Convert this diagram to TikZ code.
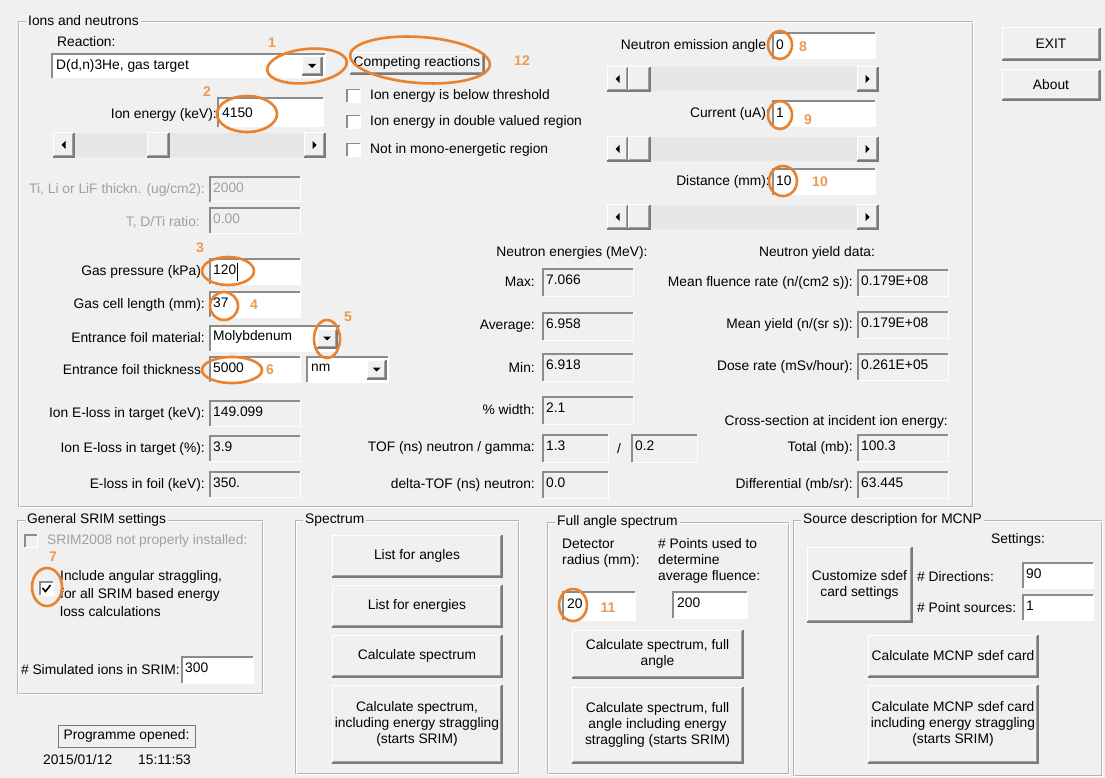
\documentclass[tikz,border=0pt]{standalone}
\usepackage{fontspec}
\setmainfont{Liberation Sans}

\definecolor{winbg}{HTML}{F0F0F0}
\definecolor{shadowdk}{HTML}{7A7A7A}
\definecolor{shadowlt}{HTML}{A0A0A0}
\definecolor{tboxedge}{HTML}{8C8C8C}
\definecolor{track}{HTML}{E6E6E6}
\definecolor{etchline}{HTML}{B4B4B4}
\definecolor{greytext}{HTML}{A0A0A0}
\definecolor{ringorange}{HTML}{E8822E}
\definecolor{numorange}{HTML}{EC9A4C}

% sunken text field: x1,y1,x2,y2,fill
\newcommand{\sunkbox}[5]{%
  \fill[#5] ({#1},{#2}) rectangle ({#3},{#4});
  \draw[white,line width=1pt] ({#1},{#4}) -- ({#3},{#4}) -- ({#3},{#2});
  \draw[tboxedge,line width=1.6pt] ({#1},{#4}) -- ({#1},{#2}) -- ({#3},{#2});}
% raised button face: x1,y1,x2,y2
\newcommand{\raisedbox}[4]{%
  \fill[winbg] ({#1},{#2}) rectangle ({#3},{#4});
  \draw[white,line width=1pt] ({#1},{#4}) -- ({#1},{#2}) -- ({#3},{#2});
  \draw[shadowdk,line width=1.4pt] ({#1},{#4}) -- ({#3},{#4}) -- ({#3},{#2});
  \draw[shadowlt,line width=1pt] ({#1+1},{#4-1.5}) -- ({#3-1.5},{#4-1.5}) -- ({#3-1.5},{#2+1});}
% scroll bar: x1,y1,x2,y2,thumb
\newcommand{\scrollbar}[5]{%
  \fill[track] ({#1},{#2}) rectangle ({#3},{#4});
  \raisedbox{#1}{#2}{#1+21}{#4}
  \raisedbox{#5}{#2}{#5+22}{#4}
  \raisedbox{#3-21}{#2}{#3}{#4}
  \fill ({#1+8.5},{(#2+#4)/2}) -- ({#1+12.5},{(#2+#4)/2-4}) -- ({#1+12.5},{(#2+#4)/2+4}) -- cycle;
  \fill ({#3-8.5},{(#2+#4)/2}) -- ({#3-12.5},{(#2+#4)/2-4}) -- ({#3-12.5},{(#2+#4)/2+4}) -- cycle;}
% drop-down button
\newcommand{\dropbtn}[4]{%
  \raisedbox{#1}{#2}{#3}{#4}
  \fill ({(#1+#3)/2-4},{(#2+#4)/2-2}) -- ({(#1+#3)/2+4},{(#2+#4)/2-2}) -- ({(#1+#3)/2},{(#2+#4)/2+2}) -- cycle;}
% group frame: x1,y1,x2,y2,name,title
\newcommand{\groupframe}[6]{%
  \draw[etchline] ({#1},{#2}) rectangle ({#3},{#4});
  \draw[white] ({#1+1},{#2+1}) rectangle ({#3+1},{#4+1});
  \node[grouptitle] (#5) at ({#1+8},{#2}) {#6};}

\begin{document}
\begin{tikzpicture}[x=1pt,y=-1pt,font=\fontsize{13.8}{16}\selectfont]
\tikzstyle{lbl}=[anchor=east, inner sep=0pt]
\tikzstyle{val}=[anchor=west, inner sep=0pt]
\tikzstyle{off}=[text=greytext]
\tikzstyle{ring}=[draw=ringorange, line width=2.6pt]
\tikzstyle{num}=[text=numorange, font=\fontsize{14}{16}\selectfont\bfseries, inner sep=0pt]
\tikzstyle{btntext}=[align=center, inner sep=0pt]
\tikzstyle{grouptitle}=[anchor=west, fill=winbg, inner sep=2pt]

\fill[winbg] (0,0) rectangle (1105,778);
\useasboundingbox (0,0) rectangle (1105,778);

\groupframe{18}{21}{972}{506}{ions}{Ions and neutrons}
\groupframe{17}{520}{262}{693}{srim}{General SRIM settings}
\groupframe{295}{520}{518}{773}{spec}{Spectrum}
\groupframe{547}{522}{788}{773}{full}{Full angle spectrum}
\groupframe{793}{520}{1101}{775}{mcnp}{Source description for MCNP}

% reaction
\node[val] (reactlbl) at (57,42) {Reaction:};
\sunkbox{52}{54}{325}{78}{white}
\node[val] (reaction) at (56,66) {D(d,n)3He, gas target};
\dropbtn{302}{57}{322}{75}
\raisedbox{350}{53}{484}{74}
\node[btntext] (compete) at (417,63) {Competing reactions};
\foreach \nm/\yy/\txt in {below/96/Ion energy is below threshold, double/122/Ion energy in double valued region, mono/150/Not in mono-energetic region}{
  \sunkbox{347}{\yy-6.5}{360}{\yy+6.5}{white}
  \node[val] (\nm) at (370,\yy) {\txt};}

% ion energy
\node[lbl] (ionE) at (217,115) {Ion energy (keV):};
\sunkbox{218}{98}{323}{127}{white}
\node[val] (ionEv) at (222,113) {4150};
\scrollbar{53}{133}{325}{157}{147}

\node[lbl,off] (thick) at (205,190) {Ti, Li or LiF thickn. (ug/cm2):};
\sunkbox{210}{177}{300}{202}{winbg}
\node[val,off] (thickv) at (213,188) {2000};
\node[lbl,off] (ratio) at (200,222) {T, D/Ti ratio:};
\sunkbox{210}{208}{300}{233}{winbg}
\node[val,off] (ratiov) at (213,219) {0.00};

% gas cell and foil
\foreach \nm/\yy/\txt/\v/\boxfill in {gasp/272/{Gas pressure (kPa):}/120/white, cell/305/{Gas cell length (mm):}/37/white, foil/370/{Entrance foil thickness:}/5000/white, elosst/414/{Ion E-loss in target (keV):}/149.099/winbg, elossp/449/{Ion E-loss in target (\%):}/3.9/winbg, elossf/485/{E-loss in foil (keV):}/350./winbg}{
  \node[lbl] (\nm) at (205,\yy) {\txt};
  \sunkbox{210}{\yy-13}{300}{\yy+12}{\boxfill}
  \node[val] (\nm-v) at (213,\yy-2) {\v};}
\draw (237,263) -- (237,281);
\node[lbl] (foilmat) at (205,338) {Entrance foil material:};
\sunkbox{210}{326}{340}{351}{white}
\node[val] (foilmatv) at (213,337) {Molybdenum};
\dropbtn{317}{329}{337}{348}
\sunkbox{307}{357}{388}{382}{white}
\node[val] (unit) at (311,368) {nm};
\dropbtn{367}{360}{386}{379}

% angle, current, distance
\foreach \nm/\yy/\txt/\v in {angle/46/{Neutron emission angle:}/0, current/114/{Current (uA):}/1, dist/182/{Distance (mm):}/10}{
  \node[lbl] (\nm) at (770,\yy) {\txt};
  \sunkbox{773}{\yy-13}{875}{\yy+13}{white}
  \node[val] (\nm-v) at (776,\yy-1) {\v};}
\foreach \yy in {67,137,205}{\scrollbar{607}{\yy}{878}{\yy+24}{628}}

\raisedbox{1002}{28}{1100}{60}
\node (exit) at (1051,44) {EXIT};
\raisedbox{1002}{70}{1100}{100}
\node (about) at (1051,85) {About};

% neutron energies
\node (energies) at (572,253) {Neutron energies (MeV):};
\foreach \nm/\yy/\txt/\v in {emax/282/Max:/7.066, eavg/326/Average:/6.958, emin/367/Min:/6.918, ewidth/410/{\% width:}/2.1}{
  \node[lbl] (\nm) at (535,\yy) {\txt};
  \sunkbox{543}{\yy-13}{633}{\yy+14}{winbg}
  \node[val] (\nm-v) at (546,\yy-2) {\v};}
\node[lbl] (tof) at (535,448) {TOF (ns) neutron / gamma:};
\sunkbox{543}{435}{608}{462}{winbg}
\node[val] (tofn) at (546,446) {1.3};
\node (slash) at (619,449) {/};
\sunkbox{632}{435}{697}{462}{winbg}
\node[val] (tofg) at (635,446) {0.2};
\node[lbl] (dtof) at (535,485) {delta-TOF (ns) neutron:};
\sunkbox{543}{472}{608}{498}{winbg}
\node[val] (dtofv) at (546,483) {0.0};

% yield data
\node (yield) at (817,253) {Neutron yield data:};
\foreach \nm/\yy/\txt/\v in {fluence/283/{Mean fluence rate (n/(cm2 s)):}/0.179E+08, myield/325/{Mean yield (n/(sr s)):}/0.179E+08, dose/367/{Dose rate (mSv/hour):}/0.261E+05, total/448/{Total (mb):}/100.3, diff/485/{Differential (mb/sr):}/63.445}{
  \node[lbl] (\nm) at (853,\yy) {\txt};
  \sunkbox{858}{\yy-13}{948}{\yy+13}{winbg}
  \node[val] (\nm-v) at (861,\yy-2) {\v};}
\node[lbl] (xsec) at (948,422) {Cross-section at incident ion energy:};

% general SRIM settings
\sunkbox{25}{535}{37}{547}{winbg}
\node[val,off] (srimwarn) at (47,541) {SRIM2008 not properly installed:};
\sunkbox{40}{582}{53}{595}{white}
\draw[line width=1.6pt] (42.5,588) -- (45.5,591.5) -- (50.5,585);
\node[val, align=left, font=\fontsize{13.8}{18}\selectfont] (straggle) at (60,594) {Include angular straggling,\\for all SRIM based energy\\loss calculations};
\node[lbl] (nions) at (180,670) {\# Simulated ions in SRIM:};
\sunkbox{182}{657}{253}{683}{white}
\node[val] (nionsv) at (185,668) {300};

\draw[shadowdk, fill=winbg] (58,725) rectangle (195,747);
\node (opened) at (126.5,736) {Programme opened:};
\node (stamp) at (117,760) {2015/01/12\hspace{26pt}15:11:53};

% spectrum
\foreach \nm/\ya/\yb/\txt in {angles/535/577/{List for angles}, energies/585/627/{List for energies}, calc/635/677/{Calculate spectrum}, calcstr/685/763/{Calculate spectrum,\\including energy straggling\\(starts SRIM)}}{
  \raisedbox{332}{\ya}{502}{\yb}
  \node[btntext] (\nm) at (417,{(\ya+\yb)/2}) {\txt};}

% full angle spectrum
\node[val, align=left] (detr) at (562,553) {Detector\\radius (mm):};
\node[val, align=left] (npts) at (658,561) {\# Points used to\\determine\\average fluence:};
\sunkbox{563}{592}{635}{620}{white}
\node[val] (radius) at (567,604) {20};
\sunkbox{673}{592}{747}{618}{white}
\node[val] (npoints) at (677,603) {200};
\foreach \nm/\ya/\yb/\txt in {fullcalc/630/678/{Calculate spectrum, full\\angle}, fullstr/687/763/{Calculate spectrum, full\\angle including energy\\straggling (starts SRIM)}}{
  \raisedbox{572}{\ya}{743}{\yb}
  \node[btntext] (\nm) at (657.5,{(\ya+\yb)/2}) {\txt};}

% MCNP
\node (settings) at (1018,540) {Settings:};
\raisedbox{807}{547}{912}{622}
\node[btntext] (custom) at (859.5,584.5) {Customize sdef\\card settings};
\node[val] (ndir) at (917,577) {\# Directions:};
\sunkbox{1023}{563}{1093}{588}{white}
\node[val] (ndirv) at (1026,574) {90};
\node[val] (npnt) at (917,608) {\# Point sources:};
\sunkbox{1023}{595}{1093}{620}{white}
\node[val] (npntv) at (1026,606) {1};
\foreach \nm/\ya/\yb/\txt in {sdef/635/677/{Calculate MCNP sdef card}, sdefstr/685/763/{Calculate MCNP sdef card\\including energy straggling\\(starts SRIM)}}{
  \raisedbox{868}{\ya}{1038}{\yb}
  \node[btntext] (\nm) at (953,{(\ya+\yb)/2}) {\txt};}

% orange marks
\foreach \cx/\cy/\rx/\ry/\rot in {307/66/40/17/6, 420/60/70/23/-4, 247/114/30/18/0, 228/271/26/14/0, 224/306/14/14/0, 327/339/13/19/0, 232/370/30/13/0, 47/587/15/19/0, 780/45/12/14/0, 780/115/12/14/0, 783/181/14/15/0, 573/605/14/16/0}
  \draw[ring, rotate around={\rot:(\cx,\cy)}] (\cx,\cy) ellipse [x radius=\rx, y radius=\ry];
\foreach \nm/\xx/\yy/\lab in {n1/272/43/1, n2/207/92/2, n3/200/248/3, n4/254/305/4, n5/348/317/5, n6/270/370/6, n7/53/557/7, n8/803/47/8, n9/808/120/9, n10/820/182/10, n11/608/608/11, n12/522/61/12}
  \node[num] (\nm) at (\xx,\yy) {\lab};
\end{tikzpicture}
\end{document}
